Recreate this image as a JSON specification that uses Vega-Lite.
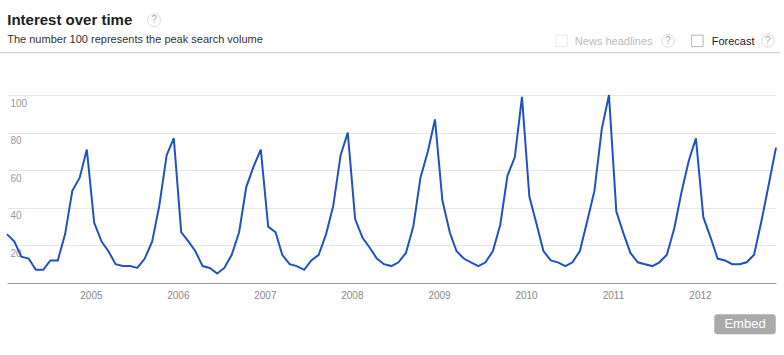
{
  "$schema": "https://vega.github.io/schema/vega-lite/v6.json",
  "width": 769,
  "height": 188,
  "autosize": {"type": "none"},
  "padding": {"left": 7, "top": 95, "right": 8, "bottom": 72},
  "background": "white",
  "config": {"view": {"stroke": null}, "font": "Liberation Sans"},
  "layer": [
    {
      "data": {"values": [
        {"month": "2004-01-15", "value": 26}, {"month": "2004-02-15", "value": 22}, {"month": "2004-03-15", "value": 14}, {"month": "2004-04-15", "value": 13}, {"month": "2004-05-15", "value": 7}, {"month": "2004-06-15", "value": 7}, {"month": "2004-07-15", "value": 12}, {"month": "2004-08-15", "value": 12}, {"month": "2004-09-15", "value": 26}, {"month": "2004-10-15", "value": 49}, {"month": "2004-11-15", "value": 56}, {"month": "2004-12-15", "value": 71},
        {"month": "2005-01-15", "value": 32}, {"month": "2005-02-15", "value": 22}, {"month": "2005-03-15", "value": 17}, {"month": "2005-04-15", "value": 10}, {"month": "2005-05-15", "value": 9}, {"month": "2005-06-15", "value": 9}, {"month": "2005-07-15", "value": 8}, {"month": "2005-08-15", "value": 13}, {"month": "2005-09-15", "value": 22}, {"month": "2005-10-15", "value": 41}, {"month": "2005-11-15", "value": 68}, {"month": "2005-12-15", "value": 77},
        {"month": "2006-01-15", "value": 27}, {"month": "2006-02-15", "value": 22}, {"month": "2006-03-15", "value": 17}, {"month": "2006-04-15", "value": 9}, {"month": "2006-05-15", "value": 8}, {"month": "2006-06-15", "value": 5}, {"month": "2006-07-15", "value": 8}, {"month": "2006-08-15", "value": 15}, {"month": "2006-09-15", "value": 27}, {"month": "2006-10-15", "value": 51}, {"month": "2006-11-15", "value": 62}, {"month": "2006-12-15", "value": 71},
        {"month": "2007-01-15", "value": 30}, {"month": "2007-02-15", "value": 27}, {"month": "2007-03-15", "value": 15}, {"month": "2007-04-15", "value": 10}, {"month": "2007-05-15", "value": 9}, {"month": "2007-06-15", "value": 7}, {"month": "2007-07-15", "value": 12}, {"month": "2007-08-15", "value": 15}, {"month": "2007-09-15", "value": 26}, {"month": "2007-10-15", "value": 41}, {"month": "2007-11-15", "value": 68}, {"month": "2007-12-15", "value": 80},
        {"month": "2008-01-15", "value": 34}, {"month": "2008-02-15", "value": 24}, {"month": "2008-03-15", "value": 19}, {"month": "2008-04-15", "value": 13}, {"month": "2008-05-15", "value": 10}, {"month": "2008-06-15", "value": 9}, {"month": "2008-07-15", "value": 11}, {"month": "2008-08-15", "value": 16}, {"month": "2008-09-15", "value": 30}, {"month": "2008-10-15", "value": 56}, {"month": "2008-11-15", "value": 70}, {"month": "2008-12-15", "value": 87},
        {"month": "2009-01-15", "value": 44}, {"month": "2009-02-15", "value": 27}, {"month": "2009-03-15", "value": 17}, {"month": "2009-04-15", "value": 13}, {"month": "2009-05-15", "value": 11}, {"month": "2009-06-15", "value": 9}, {"month": "2009-07-15", "value": 11}, {"month": "2009-08-15", "value": 17}, {"month": "2009-09-15", "value": 31}, {"month": "2009-10-15", "value": 57}, {"month": "2009-11-15", "value": 67}, {"month": "2009-12-15", "value": 99},
        {"month": "2010-01-15", "value": 46}, {"month": "2010-02-15", "value": 31}, {"month": "2010-03-15", "value": 17}, {"month": "2010-04-15", "value": 12}, {"month": "2010-05-15", "value": 11}, {"month": "2010-06-15", "value": 9}, {"month": "2010-07-15", "value": 11}, {"month": "2010-08-15", "value": 17}, {"month": "2010-09-15", "value": 33}, {"month": "2010-10-15", "value": 49}, {"month": "2010-11-15", "value": 82}, {"month": "2010-12-15", "value": 100},
        {"month": "2011-01-15", "value": 38}, {"month": "2011-02-15", "value": 26}, {"month": "2011-03-15", "value": 16}, {"month": "2011-04-15", "value": 11}, {"month": "2011-05-15", "value": 10}, {"month": "2011-06-15", "value": 9}, {"month": "2011-07-15", "value": 11}, {"month": "2011-08-15", "value": 15}, {"month": "2011-09-15", "value": 29}, {"month": "2011-10-15", "value": 48}, {"month": "2011-11-15", "value": 65}, {"month": "2011-12-15", "value": 77},
        {"month": "2012-01-15", "value": 35}, {"month": "2012-02-15", "value": 24}, {"month": "2012-03-15", "value": 13}, {"month": "2012-04-15", "value": 12}, {"month": "2012-05-15", "value": 10}, {"month": "2012-06-15", "value": 10}, {"month": "2012-07-15", "value": 11}, {"month": "2012-08-15", "value": 15}, {"month": "2012-09-15", "value": 33}, {"month": "2012-10-15", "value": 52}, {"month": "2012-11-15", "value": 72}
      ]},
      "mark": {"type": "line", "color": "#2052c3", "strokeWidth": 2},
      "encoding": {
        "x": {
          "field": "month",
          "type": "temporal",
          "title": null,
          "scale": {"type": "utc", "domain": [{"year": 2004, "month": 1, "date": 15, "utc": true}, {"year": 2012, "month": 11, "date": 15, "utc": true}]},
          "axis": {
            "title": null,
            "format": "%Y",
            "values": [
              {"year": 2005, "month": 1, "date": 1, "utc": true}, {"year": 2006, "month": 1, "date": 1, "utc": true}, {"year": 2007, "month": 1, "date": 1, "utc": true}, {"year": 2008, "month": 1, "date": 1, "utc": true},
              {"year": 2009, "month": 1, "date": 1, "utc": true}, {"year": 2010, "month": 1, "date": 1, "utc": true}, {"year": 2011, "month": 1, "date": 1, "utc": true}, {"year": 2012, "month": 1, "date": 1, "utc": true}
            ],
            "ticks": false,
            "tickSize": 0,
            "grid": false,
            "domainColor": "#999999",
            "domainWidth": 1,
            "labelColor": "#888888",
            "labelFont": "Liberation Sans",
            "labelFontSize": 10,
            "labelPadding": 7,
            "labelFlush": false,
            "labelOverlap": false
          }
        },
        "y": {
          "field": "value",
          "type": "quantitative",
          "title": null,
          "scale": {"domain": [0, 100], "nice": false},
          "axis": {
            "title": null,
            "values": [20, 40, 60, 80, 100],
            "grid": true,
            "gridColor": "#e6e6e6",
            "gridWidth": 1,
            "ticks": false,
            "tickSize": 0,
            "domain": false,
            "labelAlign": "left",
            "labelBaseline": "top",
            "labelPadding": -3,
            "labelOffset": 3,
            "labelColor": "#999999",
            "labelFont": "Liberation Sans",
            "labelFontSize": 10
          }
        }
      }
    },
    {
      "data": {"values": [{}]},
      "mark": {"type": "text", "text": "Interest over time", "fontSize": 15, "fontWeight": "bold", "color": "#222222", "align": "left", "baseline": "alphabetic", "clip": false},
      "encoding": {
        "x": {"datum": {"year": 2004, "month": 1, "date": 16, "utc": true}, "type": "temporal", "title": null},
        "y": {"datum": 137.2, "type": "quantitative", "title": null}
      }
    },
    {
      "data": {"values": [{}]},
      "mark": {"type": "text", "text": "The number 100 represents the peak search volume", "fontSize": 11, "color": "#333333", "align": "left", "baseline": "alphabetic", "clip": false},
      "encoding": {
        "x": {"datum": {"year": 2004, "month": 1, "date": 16, "utc": true}, "type": "temporal", "title": null},
        "y": {"datum": 127.4, "type": "quantitative", "title": null}
      }
    },
    {
      "data": {"values": [{}]},
      "mark": {"type": "rule", "color": "#cccccc", "strokeWidth": 1, "clip": false},
      "encoding": {
        "x": {"datum": {"year": 2003, "month": 12, "date": 16, "utc": true}, "type": "temporal", "title": null},
        "x2": {"datum": {"year": 2012, "month": 12, "date": 2, "utc": true}},
        "y": {"datum": 122.5, "type": "quantitative", "title": null}
      }
    },
    {
      "data": {"values": [{}]},
      "mark": {"type": "point", "shape": "circle", "size": 169, "filled": false, "stroke": "#cccccc", "strokeWidth": 1, "clip": false},
      "encoding": {
        "x": {"datum": {"year": 2005, "month": 9, "date": 23, "utc": true}, "type": "temporal", "title": null},
        "y": {"datum": 139.7, "type": "quantitative", "title": null}
      }
    },
    {
      "data": {"values": [{}]},
      "mark": {"type": "text", "text": "?", "fontSize": 10, "color": "#aaaaaa", "align": "center", "baseline": "middle", "clip": false},
      "encoding": {
        "x": {"datum": {"year": 2005, "month": 9, "date": 23, "utc": true}, "type": "temporal", "title": null},
        "y": {"datum": 139.7, "type": "quantitative", "title": null}
      }
    },
    {
      "data": {"values": [{}]},
      "mark": {"type": "point", "shape": "square", "size": 132, "filled": false, "stroke": "#e0e0e0", "strokeWidth": 1, "clip": false},
      "encoding": {
        "x": {"datum": {"year": 2010, "month": 5, "date": 30, "utc": true}, "type": "temporal", "title": null},
        "y": {"datum": 128.8, "type": "quantitative", "title": null}
      }
    },
    {
      "data": {"values": [{}]},
      "mark": {"type": "text", "text": "News headlines", "fontSize": 11, "color": "#bbbbbb", "align": "left", "baseline": "alphabetic", "clip": false},
      "encoding": {
        "x": {"datum": {"year": 2010, "month": 7, "date": 25, "utc": true}, "type": "temporal", "title": null},
        "y": {"datum": 126.6, "type": "quantitative", "title": null}
      }
    },
    {
      "data": {"values": [{}]},
      "mark": {"type": "point", "shape": "circle", "size": 160, "filled": false, "stroke": "#cccccc", "strokeWidth": 1, "clip": false},
      "encoding": {
        "x": {"datum": {"year": 2011, "month": 8, "date": 20, "utc": true}, "type": "temporal", "title": null},
        "y": {"datum": 128.8, "type": "quantitative", "title": null}
      }
    },
    {
      "data": {"values": [{}]},
      "mark": {"type": "text", "text": "?", "fontSize": 10, "color": "#aaaaaa", "align": "center", "baseline": "middle", "clip": false},
      "encoding": {
        "x": {"datum": {"year": 2011, "month": 8, "date": 20, "utc": true}, "type": "temporal", "title": null},
        "y": {"datum": 128.8, "type": "quantitative", "title": null}
      }
    },
    {
      "data": {"values": [{}]},
      "mark": {"type": "point", "shape": "square", "size": 132, "filled": false, "stroke": "#999999", "strokeWidth": 1, "clip": false},
      "encoding": {
        "x": {"datum": {"year": 2011, "month": 12, "date": 21, "utc": true}, "type": "temporal", "title": null},
        "y": {"datum": 128.8, "type": "quantitative", "title": null}
      }
    },
    {
      "data": {"values": [{}]},
      "mark": {"type": "text", "text": "Forecast", "fontSize": 11, "color": "#222222", "align": "left", "baseline": "alphabetic", "clip": false},
      "encoding": {
        "x": {"datum": {"year": 2012, "month": 2, "date": 19, "utc": true}, "type": "temporal", "title": null},
        "y": {"datum": 126.6, "type": "quantitative", "title": null}
      }
    },
    {
      "data": {"values": [{}]},
      "mark": {"type": "point", "shape": "circle", "size": 160, "filled": false, "stroke": "#cccccc", "strokeWidth": 1, "clip": false},
      "encoding": {
        "x": {"datum": {"year": 2012, "month": 10, "date": 12, "utc": true}, "type": "temporal", "title": null},
        "y": {"datum": 128.8, "type": "quantitative", "title": null}
      }
    },
    {
      "data": {"values": [{}]},
      "mark": {"type": "text", "text": "?", "fontSize": 10, "color": "#aaaaaa", "align": "center", "baseline": "middle", "clip": false},
      "encoding": {
        "x": {"datum": {"year": 2012, "month": 10, "date": 12, "utc": true}, "type": "temporal", "title": null},
        "y": {"datum": 128.8, "type": "quantitative", "title": null}
      }
    },
    {
      "data": {"values": [{}]},
      "mark": {"type": "rect", "color": "#aaaaaa", "cornerRadius": 3, "clip": false},
      "encoding": {
        "x": {"datum": {"year": 2012, "month": 3, "date": 1, "utc": true}, "type": "temporal", "title": null},
        "x2": {"datum": {"year": 2012, "month": 11, "date": 14, "utc": true}},
        "y": {"datum": -16.6, "type": "quantitative", "title": null},
        "y2": {"datum": -27.3}
      }
    },
    {
      "data": {"values": [{}]},
      "mark": {"type": "text", "text": "Embed", "fontSize": 13, "color": "#ffffff", "align": "center", "baseline": "middle", "clip": false},
      "encoding": {
        "x": {"datum": {"year": 2012, "month": 7, "date": 8, "utc": true}, "type": "temporal", "title": null},
        "y": {"datum": -22.0, "type": "quantitative", "title": null}
      }
    }
  ]
}
